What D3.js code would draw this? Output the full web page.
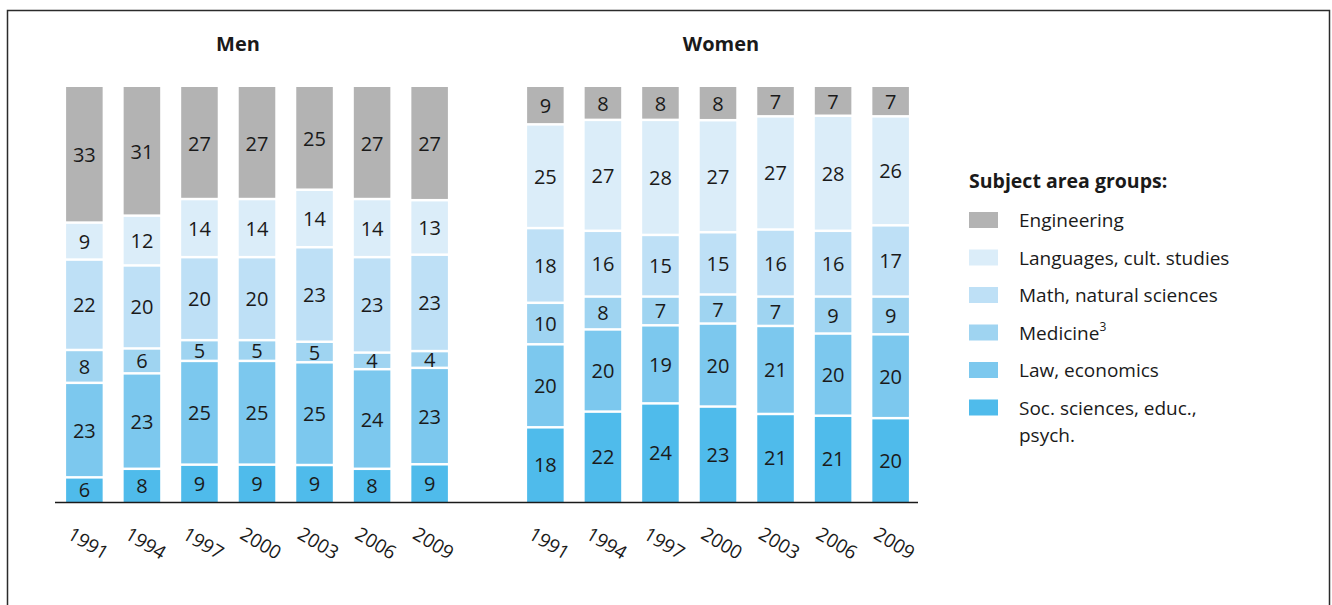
<!DOCTYPE html>
<html>
<head>
<meta charset="utf-8">
<script src="https://cdn.jsdelivr.net/npm/d3@7"></script>
<style>
  html, body { margin: 0; padding: 0; background: #fff; }
  svg { display: block; }
  text { font-family: "Open Sans", "Noto Sans", sans-serif; fill: #1a1a1a; }
</style>
</head>
<body>
<svg id="chart" width="1332" height="605"></svg>
<script>
// Survey years (x categories)
const years = ["1991", "1994", "1997", "2000", "2003", "2006", "2009"];

// Subject area groups, listed top of the stack first (legend order)
const subjects = ["Engineering", "Languages, cult. studies", "Math, natural sciences",
                  "Medicine", "Law, economics", "Soc. sciences, educ., psych."];
const subjectKeys = ["eng", "lang", "math", "med", "law", "soc"];
const subjectColors = ["#b3b3b3", "#dbedf9", "#bee0f6", "#9fd4f1", "#7cc8ee", "#4fbbeb"];

// Men, share in % per subject group
const menEng  = [33, 31, 27, 27, 25, 27, 27];
const menLang = [9, 12, 14, 14, 14, 14, 13];
const menMath = [22, 20, 20, 20, 23, 23, 23];
const menMed  = [8, 6, 5, 5, 5, 4, 4];
const menLaw  = [23, 23, 25, 25, 25, 24, 23];
const menSoc  = [6, 8, 9, 9, 9, 8, 9];

// Women, share in % per subject group
const womenEng  = [9, 8, 8, 8, 7, 7, 7];
const womenLang = [25, 27, 28, 27, 27, 28, 26];
const womenMath = [18, 16, 15, 15, 16, 16, 17];
const womenMed  = [10, 8, 7, 7, 7, 9, 9];
const womenLaw  = [20, 20, 19, 20, 21, 20, 20];
const womenSoc  = [18, 22, 24, 23, 21, 21, 20];

function rows(eng, lang, math, med, law, soc) {
  return years.map((y, i) => ({
    year: y, eng: eng[i], lang: lang[i], math: math[i], med: med[i], law: law[i], soc: soc[i]
  }));
}

const panels = [
  { title: "Men",   titleX: 238, range: [55.75, 458.25], data: rows(menEng, menLang, menMath, menMed, menLaw, menSoc) },
  { title: "Women", titleX: 721, range: [516.75, 919.25], data: rows(womenEng, womenLang, womenMath, womenMed, womenLaw, womenSoc) }
];

const svg = d3.select("#chart");

// outer frame
svg.append("rect")
  .attr("x", 7.5).attr("y", 10.5)
  .attr("width", 1322).attr("height", 640)
  .attr("fill", "none").attr("stroke", "#2b2b2b").attr("stroke-width", 1.5);

const baseY = 502, topY = 87;
const y = d3.scaleLinear().domain([0, 1]).range([baseY, topY]);
const color = d3.scaleOrdinal().domain(subjectKeys).range(subjectColors);

// stack bottom-up: social sciences first, engineering on top
const stack = d3.stack()
  .keys(subjectKeys.slice().reverse())
  .offset(d3.stackOffsetExpand);

const gap = 1.25;

panels.forEach(p => {
  const x = d3.scaleBand().domain(years).range(p.range)
    .paddingInner(0.365).paddingOuter(0.18);
  const series = stack(p.data);
  const g = svg.append("g");

  series.forEach((s, si) => {
    const isBottom = si === 0, isTop = si === series.length - 1;
    const grp = g.append("g");
    grp.selectAll("rect").data(s).join("rect")
      .attr("x", d => x(d.data.year))
      .attr("width", x.bandwidth())
      .attr("y", d => y(d[1]) + (isTop ? 0 : gap))
      .attr("height", d => y(d[0]) - y(d[1]) - (isTop ? 0 : gap) - (isBottom ? 0 : gap))
      .attr("fill", color(s.key));
    grp.selectAll("text").data(s).join("text")
      .attr("x", d => x(d.data.year) + x.bandwidth() / 2)
      .attr("y", d => (y(d[0]) + y(d[1])) / 2)
      .attr("text-anchor", "middle")
      .attr("dominant-baseline", "central")
      .style("font-size", "20px")
      .text(d => d.data[s.key]);
  });

  // year labels, tilted
  const axis = d3.axisBottom(x).tickSize(0).tickPadding(0);
  const ax = svg.append("g").attr("transform", `translate(0,${baseY})`).call(axis);
  ax.select(".domain").remove();
  ax.selectAll(".tick text")
    .attr("x", 0).attr("y", 0)
    .attr("dy", null)
    .attr("transform", "translate(4,41) rotate(31)")
    .attr("text-anchor", "middle")
    .attr("dominant-baseline", "central")
    .style("font-family", '"Open Sans", "Noto Sans", sans-serif')
    .style("font-size", "19px")
    .attr("fill", "#1a1a1a");

  svg.append("text")
    .attr("x", p.titleX).attr("y", 51)
    .attr("text-anchor", "middle")
    .style("font-size", "20px").style("font-weight", "bold")
    .text(p.title);
});

// baseline across both panels
svg.append("line")
  .attr("x1", 55).attr("x2", 918)
  .attr("y1", baseY + 0.5).attr("y2", baseY + 0.5)
  .attr("stroke", "#1a1a1a").attr("stroke-width", 1.5);

// legend
const lg = svg.append("g").attr("transform", "translate(969,0)");
lg.append("text").attr("x", 0).attr("y", 188)
  .style("font-size", "19.5px").style("font-weight", "bold")
  .text("Subject area groups:");

const step = 37.5, firstTop = 212;
subjects.forEach((name, i) => {
  const top = firstTop + i * step;
  lg.append("rect").attr("x", 0).attr("y", top).attr("width", 29).attr("height", 16)
    .attr("fill", subjectColors[i]);
  const t = lg.append("text").attr("x", 50).attr("y", top + 15)
    .style("font-size", "19px");
  if (name === "Medicine") {
    t.append("tspan").text("Medicine");
    t.append("tspan").attr("dy", -9).style("font-size", "12px").text("3");
  } else if (name === "Soc. sciences, educ., psych.") {
    t.append("tspan").attr("x", 50).text("Soc. sciences, educ.,");
    t.append("tspan").attr("x", 50).attr("dy", 27).text("psych.");
  } else {
    t.text(name);
  }
});
</script>
</body>
</html>
